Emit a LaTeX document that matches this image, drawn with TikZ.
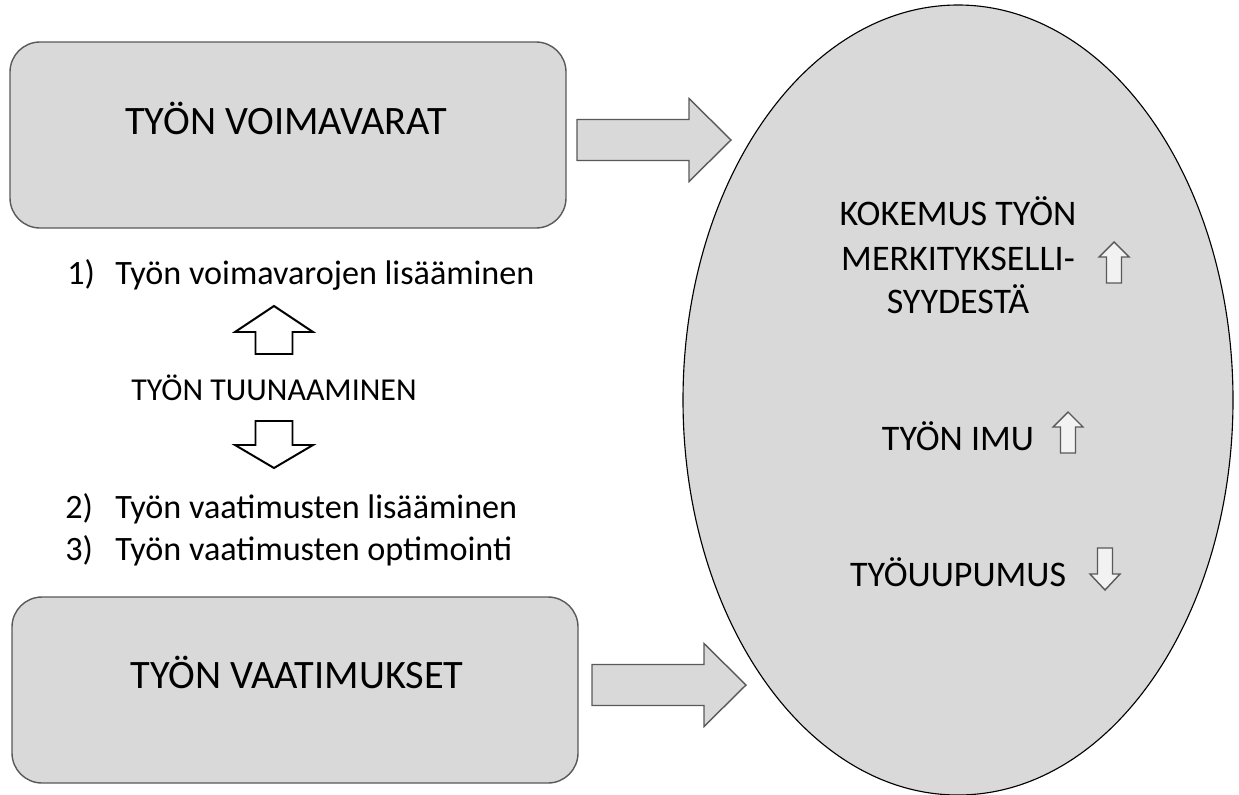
\documentclass[tikz,border=0pt]{standalone}
\usepackage{fontspec}
\setmainfont{Carlito}
\usetikzlibrary{calc,positioning,shapes.geometric}
\definecolor{boxgray}{HTML}{D9D9D9}
\definecolor{edgegray}{HTML}{595959}
\definecolor{arrowwhite}{HTML}{F2F2F2}

\begin{document}
\begin{tikzpicture}

\tikzstyle{box}=[draw=edgegray,fill=boxgray,line width=1pt,rounded corners=0.75cm,outer sep=0pt]
\tikzstyle{blockarrow}=[draw=edgegray,fill=boxgray,line width=1pt]
\tikzstyle{tunearrow}=[draw=black,fill=white,line width=1.4pt]
\tikzstyle{trend}=[draw=edgegray,fill=arrowwhite,line width=1pt]
\tikzstyle{boxtext}=[anchor=base,inner sep=0pt,font=\fontsize{28.7}{34}\selectfont]
\tikzstyle{sidetext}=[anchor=base west,inner sep=0pt,font=\fontsize{24.3}{29}\selectfont]
\tikzstyle{outtext}=[anchor=base,inner sep=0pt,font=\fontsize{25.6}{31}\selectfont]

\useasboundingbox (0,0) rectangle (30.975,-19.85);

% Voimavarat ja vaatimukset

\node (resources) [box,minimum width=13.9cm,minimum height=4.65cm] at (7.2,-3.375) {};
\node (demands) [box,minimum width=14.15cm,minimum height=4.65cm] at (7.375,-17.25) {};

\node (restext) [boxtext] at ([xshift=-0.05cm,yshift=0.025cm]resources.center) {TYÖN VOIMAVARAT};
\node (demtext) [boxtext] at ([xshift=0.05cm,yshift=0.05cm]demands.center) {TYÖN VAATIMUKSET};

% Ellipsi

\node (outcome) [ellipse,draw=black,fill=boxgray,line width=0.8pt,minimum width=13.75cm,minimum height=19.75cm,inner sep=0pt] at (23.95,-10.0) {};

% Nuolet ellipsiin

\draw [blockarrow] (14.425,-3.5) ++(0,0.5125) -- ++(2.8,0) -- ++(0,0.525) -- ++(1.05,-1.0375) -- ++(-1.05,-1.0375) -- ++(0,0.525) -- ++(-2.8,0) -- cycle;
\draw [blockarrow] (14.8,-17.125) ++(0,0.5125) -- ++(2.8,0) -- ++(0,0.525) -- ++(1.05,-1.0375) -- ++(-1.05,-1.0375) -- ++(0,0.525) -- ++(-2.8,0) -- cycle;

% Tuunaaminen

\node (num1) [sidetext] at (1.675,-7.1) {1)};
\node (add1) [sidetext] at (2.875,-7.1) {Työn voimavarojen lisääminen};
\node (crafting) [anchor=base,inner sep=0pt,font=\fontsize{22.7}{27}\selectfont] at (6.85,-10.0) {TYÖN TUUNAAMINEN};
\node (num2) [sidetext] at (1.625,-12.95) {2)};
\node (add2) [sidetext] at (2.875,-12.95) {Työn vaatimusten lisääminen};
\node (num3) [sidetext] at (1.625,-14.0) {3)};
\node (add3) [sidetext] at (2.875,-14.0) {Työn vaatimusten optimointi};

\draw [tunearrow] (6.85,-7.65) -- ++(0.975,-0.65) -- ++(-0.5125,0) -- ++(0,-0.55) -- ++(-0.925,0) -- ++(0,0.55) -- ++(-0.5125,0) -- cycle;
\draw [tunearrow] (6.85,-11.7) -- ++(0.975,0.575) -- ++(-0.5125,0) -- ++(0,0.6) -- ++(-0.925,0) -- ++(0,-0.6) -- ++(-0.5125,0) -- cycle;

% Seuraukset

\node (meaning1) [outtext] at (23.95,-5.625) {KOKEMUS TYÖN};
\node (meaning2) [outtext] at (23.95,-6.75) {MERKITYKSELLI-};
\node (meaning3) [outtext] at (23.95,-7.825) {SYYDESTÄ};
\node (engage) [outtext] at (23.95,-11.25) {TYÖN IMU};
\node (burnout) [outtext] at (23.95,-14.65) {TYÖUUPUMUS};

\draw [trend] (27.85,-6.05) -- ++(0.375,-0.375) -- ++(-0.1875,0) -- ++(0,-0.65) -- ++(-0.375,0) -- ++(0,0.65) -- ++(-0.1875,0) -- cycle;
\draw [trend] (26.7,-10.3) -- ++(0.375,-0.375) -- ++(-0.1875,0) -- ++(0,-0.65) -- ++(-0.375,0) -- ++(0,0.65) -- ++(-0.1875,0) -- cycle;
\draw [trend] (27.625,-14.75) -- ++(0.375,0.4) -- ++(-0.1875,0) -- ++(0,0.65) -- ++(-0.375,0) -- ++(0,-0.65) -- ++(-0.1875,0) -- cycle;

\end{tikzpicture}
\end{document}
